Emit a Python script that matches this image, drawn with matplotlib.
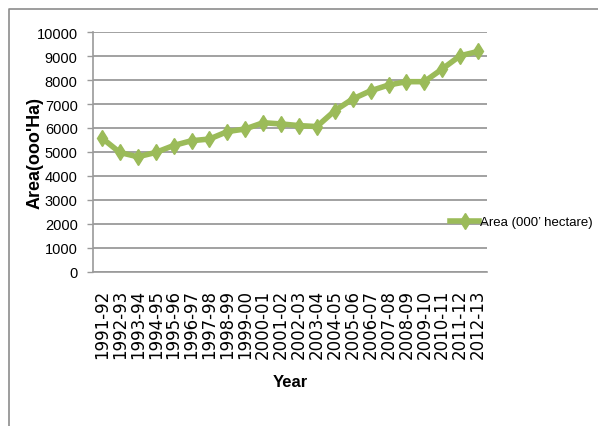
import matplotlib
matplotlib.use("Agg")
import matplotlib.pyplot as plt
from matplotlib.lines import Line2D

years = ["1991-92", "1992-93", "1993-94", "1994-95", "1995-96", "1996-97",
         "1997-98", "1998-99", "1999-00", "2000-01", "2001-02", "2002-03",
         "2003-04", "2004-05", "2005-06", "2006-07", "2007-08", "2008-09",
         "2009-10", "2010-11", "2011-12", "2012-13"]
area = [5580, 4980, 4800, 4980, 5270, 5470, 5540, 5850, 5960, 6220, 6170,
        6100, 6060, 6720, 7210, 7550, 7790, 7930, 7930, 8460, 9010, 9190]
yticks = list(range(0, 10001, 1000))

GREEN = "#9BBB59"
GRID = "#9a9a9a"
SANS = ["Liberation Sans", "DejaVu Sans"]

fig = plt.figure(figsize=(5.98, 4.27), dpi=100)
fig.patch.set_facecolor("white")
ax = fig.add_axes([93 / 598, 1 - 273 / 427, 394 / 598, 240 / 427])

x = list(range(len(years)))
ax.plot(x, area, color=GREEN, linewidth=4, marker="d", markersize=8,
        label="Area (000\u2019 hectare)", zorder=3)

ax.set_xlim(-0.5, len(years) - 0.5)
ax.set_ylim(0, 10000)
ax.set_yticks(yticks)
ax.set_yticklabels([str(v) for v in yticks], family=SANS, fontsize=10.5)
ax.set_xticks(x)
ax.set_xticklabels(years, rotation=90, family="DejaVu Sans", fontsize=12)
ax.tick_params(axis="x", length=0, pad=12)
ax.tick_params(axis="y", length=4, width=1, color=GRID, pad=7)

ax.grid(axis="y", color=GRID, linewidth=1.3)
ax.set_axisbelow(True)
for side in ["top", "right"]:
    ax.spines[side].set_visible(False)
ax.spines["left"].set_color(GRID)
ax.spines["bottom"].set_color(GRID)
ax.spines["left"].set_linewidth(1.2)
ax.spines["bottom"].set_linewidth(1.2)

fig.text(35 / 598, 1 - 153 / 427, "Area(ooo'Ha)", rotation=90, ha="center",
         va="center", family=SANS, fontweight="bold", fontsize=13)
fig.text(290 / 598, 1 - 383 / 427, "Year", ha="center", va="center",
         family=SANS, fontweight="bold", fontsize=12)

fig.legend(loc="center left", bbox_to_anchor=(450 / 598, 1 - 223 / 427),
           frameon=False, prop={"family": SANS, "size": 9.5},
           handlelength=2.2, handletextpad=0.1, borderpad=0, borderaxespad=0)

# outer frame (only top and left edges visible in the crop)
fig.add_artist(Line2D([9 / 598, 9 / 598, 1], [0, 1 - 10 / 427, 1 - 10 / 427],
                      transform=fig.transFigure, color="#8c8c8c", linewidth=1.2))

fig.savefig("out.png", dpi=100)
